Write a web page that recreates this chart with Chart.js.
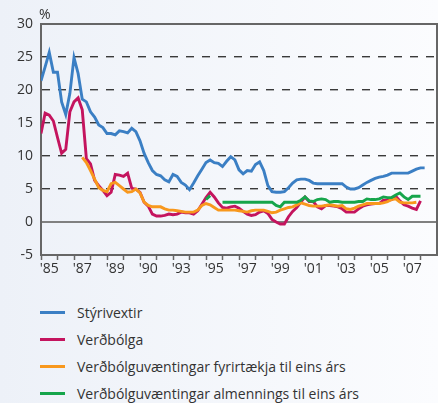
<!DOCTYPE html>
<html><head><meta charset="utf-8">
<script src="https://cdn.jsdelivr.net/npm/chart.js@4.4.1/dist/chart.umd.min.js"></script>
<style>
html,body{margin:0;padding:0;}
body{width:438px;height:403px;overflow:hidden;background:linear-gradient(to right,#edf1f8,#fbfcfe);font-family:"Open Sans",sans-serif;color:#333;position:relative;}
#wrap{position:absolute;left:0;top:0;width:438px;height:290px;}
#pct{position:absolute;left:39px;top:4px;font-size:14px;line-height:19px;}
#legend{position:absolute;left:40px;top:299px;}
.item{height:27px;display:flex;align-items:center;font-size:14px;white-space:nowrap;}
.sw{width:25px;height:3px;margin-right:12px;flex:none;}
</style></head>
<body>
<div id="wrap"><canvas id="c" width="438" height="290"></canvas></div>
<div id="pct">%</div>
<div id="legend"></div>
<script>
const quarters = [
"1985Q1","1985Q2","1985Q3","1985Q4","1986Q1","1986Q2","1986Q3","1986Q4",
"1987Q1","1987Q2","1987Q3","1987Q4","1988Q1","1988Q2","1988Q3","1988Q4",
"1989Q1","1989Q2","1989Q3","1989Q4","1990Q1","1990Q2","1990Q3","1990Q4",
"1991Q1","1991Q2","1991Q3","1991Q4","1992Q1","1992Q2","1992Q3","1992Q4",
"1993Q1","1993Q2","1993Q3","1993Q4","1994Q1","1994Q2","1994Q3","1994Q4",
"1995Q1","1995Q2","1995Q3","1995Q4","1996Q1","1996Q2","1996Q3","1996Q4",
"1997Q1","1997Q2","1997Q3","1997Q4","1998Q1","1998Q2","1998Q3","1998Q4",
"1999Q1","1999Q2","1999Q3","1999Q4","2000Q1","2000Q2","2000Q3","2000Q4",
"2001Q1","2001Q2","2001Q3","2001Q4","2002Q1","2002Q2","2002Q3","2002Q4",
"2003Q1","2003Q2","2003Q3","2003Q4","2004Q1","2004Q2","2004Q3","2004Q4",
"2005Q1","2005Q2","2005Q3","2005Q4","2006Q1","2006Q2","2006Q3","2006Q4",
"2007Q1","2007Q2","2007Q3","2007Q4","2008Q1","2008Q2"];

const styrivextir = [
21.4,23.5,25.7,22.7, 22.7,18.2,16.3,19.5, 24.9,22.5,18.6,18.2, 16.7,15.9,14.7,14.3,
13.4,13.4,13.2,13.8, 13.7,13.5,14.2,13.7, 12.3,10.4,9.0,7.8, 7.2,7.0,6.4,6.1,
7.2,6.9,6.0,5.6, 4.9,5.9,7.0,8.0, 9.0,9.4,9.0,8.9, 8.4,9.2,9.9,9.4,
7.9,7.3,7.8,7.7, 8.7,9.1,7.8,5.5, 4.6,4.5,4.5,4.6, 5.2,5.9,6.4,6.5,
6.5,6.3,5.9,5.8, 5.8,5.8,5.8,5.8, 5.8,5.8,5.3,5.0, 5.0,5.2,5.6,6.0,
6.3,6.6,6.8,6.9, 7.1,7.4,7.4,7.4, 7.4,7.4,7.7,8.0, 8.2,8.2];

const verdbolga = [
13.4,16.5,16.2,15.3, 12.8,10.4,11.0,16.7, 18.2,18.8,17.0,9.6, 8.8,6.3,5.5,4.8,
4.0,4.5,7.2,7.1, 6.9,7.4,5.1,5.0, 4.5,3.0,2.4,1.2, 0.9,0.9,1.0,1.2,
1.1,1.2,1.5,1.4, 1.4,1.2,1.7,2.7, 3.7,4.5,3.8,2.9, 2.2,2.1,2.3,2.4,
2.1,1.6,1.2,1.0, 1.1,1.5,1.7,1.3, 0.4,0.0,-0.3,-0.3, 0.8,1.6,2.2,3.0,
3.8,3.1,3.1,2.3, 2.0,2.5,2.5,2.4, 2.3,2.0,1.5,1.5, 1.5,2.0,2.4,2.6,
2.7,2.8,2.8,3.3, 3.3,3.4,3.9,3.2, 2.6,2.4,2.1,1.9, 3.2,null];

const vaentingarFyrirtaekja = [
null,null,null,null, null,null,null,null, null,null,9.8,9.0, 7.8,6.5,5.2,4.8,
4.6,5.8,6.0,5.5, 5.0,4.5,4.6,5.0, 4.4,3.0,2.5,2.3, 2.3,2.3,2.0,1.8,
1.8,1.7,1.6,1.5, 1.5,1.5,1.8,2.5, 2.8,2.6,2.2,1.8, 1.8,1.8,1.8,1.8,
1.7,1.6,1.5,1.7, 1.8,1.8,1.8,1.6, 1.4,1.5,1.8,2.0, 2.2,2.3,2.6,2.9,
2.7,2.5,2.4,2.4, 2.4,2.5,2.6,2.5, 2.4,2.5,2.0,1.9, 2.1,2.4,2.6,2.8,
2.8,2.8,2.8,2.9, 3.1,3.4,3.5,3.0, 2.9,2.9,2.9,3.0, null,null];

const vaentingarAlmennings = [
null,null,null,null, null,null,null,null, null,null,null,null, null,null,null,null,
null,null,null,null, null,null,null,null, null,null,null,null, null,null,null,null,
null,null,null,null, null,null,null,null, 3.4,4.0,null,null, 3.0,3.0,3.0,3.0,
3.0,3.0,3.0,3.0, 3.0,3.0,3.0,3.0, 3.0,2.5,2.3,3.0, 3.0,3.0,3.0,3.3,
3.8,3.2,3.1,3.4, 3.5,3.4,3.0,3.1, 3.1,3.0,3.0,3.0, 3.0,3.1,3.1,3.5,
3.4,3.4,3.5,3.8, 3.7,3.7,4.1,4.4, 3.8,3.4,3.9,3.9, 3.9,null];

const seriesNames = ["Stýrivextir","Verðbólga","Verðbólguvæntingar fyrirtækja til eins árs","Verðbólguvæntingar almennings til eins árs"];
const seriesColors = ["#3b7fc4","#c4145e","#f8981d","#16a54b"];

const xTickYears = [1985,1986,1987,1988,1989,1990,1991,1992,1993,1994,1995,1996,1997,1998,1999,2000,2001,2002,2003,2004,2005,2006,2007,2008];
const xLabelYears = [1985,1987,1989,1991,1993,1995,1997,1999,2001,2003,2005,2007];
const xLabels = ["'85","'87","'89","'90","'93","'95","'97","'99","'01","'03","'05","'07"];
const yTicks = [-5,0,5,10,15,20,25,30];

const toX = q => parseInt(q.slice(0,4),10) + (parseInt(q.slice(5),10)-1)/4;
const pts = arr => quarters.map((q,i)=>({x:toX(q), y:arr[i]}));
const allSeries = [styrivextir, verdbolga, vaentingarFyrirtaekja, vaentingarAlmennings];

const datasets = allSeries.map((s,i)=>({
  label: seriesNames[i], data: pts(s), borderColor: seriesColors[i], backgroundColor: seriesColors[i],
  borderWidth: 2.9, pointRadius: 0, tension: 0, spanGaps: false, fill: false
})).reverse();

const frame = {
  id:'frame',
  beforeDatasetsDraw(chart){
    const {ctx, chartArea:a} = chart;
    ctx.save();
    ctx.strokeStyle = '#666'; ctx.lineWidth = 2;
    ctx.beginPath();
    ctx.moveTo(a.left, a.top); ctx.lineTo(a.right, a.top); ctx.lineTo(a.right, a.bottom);
    ctx.stroke();
    ctx.restore();
  }
};

const FONT = {family:"'Open Sans', sans-serif", size:14};

new Chart(document.getElementById('c'), {
  type:'line',
  data:{datasets},
  plugins:[frame],
  options:{
    responsive:false, animation:false,
    layout:{padding:{top:24, right:1, left:0, bottom:0}},
    plugins:{legend:{display:false}, tooltip:{enabled:false}},
    scales:{
      x:{
        type:'linear', min:1985, max:2009,
        afterBuildTicks: s => { s.ticks = xTickYears.map(v=>({value:v})); },
        afterFit: s => { s.height = 35; },
        ticks:{autoSkip:false, maxRotation:0, minRotation:0, labelOffset:8.25, padding:1, color:'#333', font:FONT,
          callback: v => { const k = xLabelYears.indexOf(v); return k>=0 ? xLabels[k] : ''; }},
        grid:{drawOnChartArea:false, drawTicks:true, tickLength:5, tickColor:'#666', tickWidth:1.5},
        border:{color:'#666', width:2}
      },
      y:{
        min:-5, max:30,
        afterBuildTicks: s => { s.ticks = yTicks.map(v=>({value:v})); },
        afterFit: s => { s.width = 41; },
        ticks:{padding:8, color:'#333', font:FONT},
        grid:{drawTicks:false,
          color: c => { const v = c.tick ? c.tick.value : null; if (v===0) return '#808080'; if (v===-5||v===30) return 'rgba(0,0,0,0)'; return '#3a3a3a'; },
          lineWidth: c => (c.tick && c.tick.value===0) ? 2 : 1.4},
        border:{color:'#666', width:2,
          dash: c => (c.tick && c.tick.value>0 && c.tick.value<30) ? [8,8] : []}
      }
    }
  }
});

const lg = document.getElementById('legend');
seriesNames.forEach((n,i)=>{
  const d = document.createElement('div'); d.className='item';
  const sw = document.createElement('span'); sw.className='sw'; sw.style.background = seriesColors[i];
  const t = document.createElement('span'); t.textContent = n;
  d.appendChild(sw); d.appendChild(t); lg.appendChild(d);
});
</script>
</body></html>
